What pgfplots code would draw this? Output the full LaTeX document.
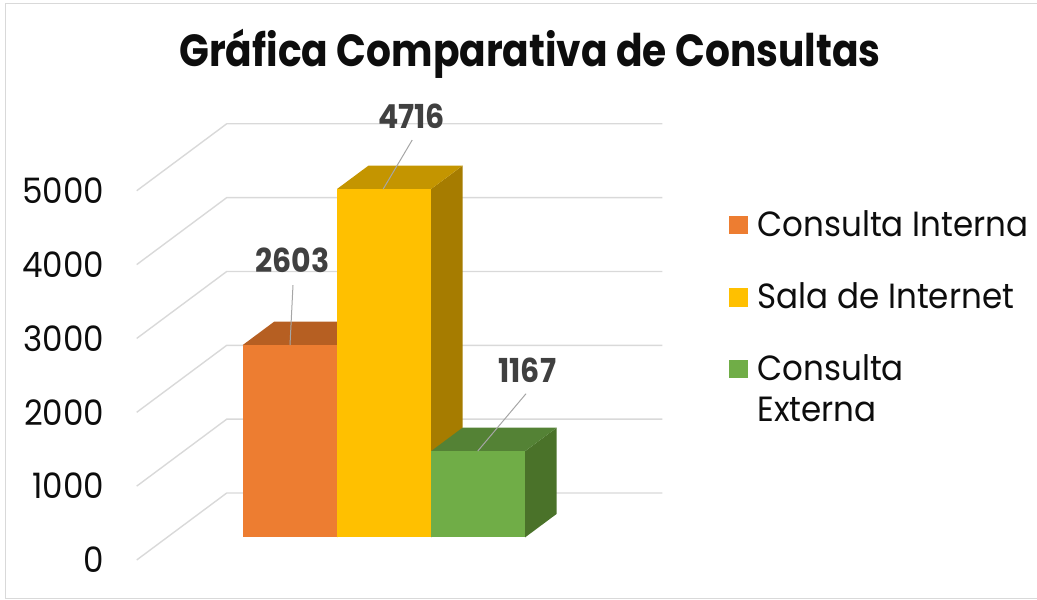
\documentclass[border=0pt]{standalone}
\usepackage{fontspec}
\setmainfont{Poppins}
\newfontfamily\titlefont{Poppins}[FakeStretch=0.87]
\newfontfamily\lblfont{Poppins}[FakeStretch=0.91]
\newfontfamily\legfont{Poppins}[FakeStretch=0.93]
\usepackage{pgfplots}
\pgfplotsset{compat=1.18}
\definecolor{cOrange}{HTML}{ED7D31}
\definecolor{cOrangeTop}{HTML}{B65F22}
\definecolor{cOrangeSide}{HTML}{A04F1A}
\definecolor{cYellow}{HTML}{FFC000}
\definecolor{cYellowTop}{HTML}{C49500}
\definecolor{cYellowSide}{HTML}{A67C00}
\definecolor{cGreen}{HTML}{70AD47}
\definecolor{cGreenTop}{HTML}{548235}
\definecolor{cGreenSide}{HTML}{4A7229}
\definecolor{gridc}{HTML}{D9D9D9}
\definecolor{lblc}{HTML}{404040}
\definecolor{leader}{HTML}{A6A6A6}
\definecolor{txt}{HTML}{0D0D0D}
\begin{document}
\begin{tikzpicture}
\path[use as bounding box] (0,0) rectangle (1037pt,600pt);
\draw[gridc, line width=1pt] (5pt,1.5pt) rectangle (1045pt,596pt);
\node[anchor=base, inner sep=0pt, text=txt, font=\titlefont\fontsize{45}{54}\selectfont\bfseries] at (530pt,533.3pt) {Gráfica Comparativa de Consultas};
\begin{axis}[
  at={(136.7pt,40pt)}, anchor=origin,
  x={(1pt,0pt)}, y={(1pt,0.744pt)}, z={(0pt,0.07386pt)},
  xmin=0, xmax=435.6, ymin=0, ymax=90, zmin=0, zmax=5000,
  hide axis, clip=false,
]
\pgfplotsinvokeforeach{0,1000,2000,3000,4000,5000}{
  \addplot3[gridc, line width=1.4pt] coordinates {(0,0,#1) (0,90,#1) (435.6,90,#1)};
  \node[anchor=east, inner sep=0pt, xshift=-32.2pt, text=txt, font=\legfont\fontsize{35}{42}\selectfont] at (axis cs:0,0,#1) {#1};
}
% Consulta Interna
\addplot3[fill=cOrangeSide, draw=none] coordinates {(169.8,30.5,0) (169.8,62,0) (169.8,62,2603) (169.8,30.5,2603)};
\addplot3[fill=cOrangeTop, draw=none] coordinates {(75.5,30.5,2603) (169.8,30.5,2603) (169.8,62,2603) (75.5,62,2603)};
\addplot3[fill=cOrange, draw=none] coordinates {(75.5,30.5,0) (169.8,30.5,0) (169.8,30.5,2603) (75.5,30.5,2603)};
% Sala de Internet
\addplot3[fill=cYellowSide, draw=none] coordinates {(263.9,30.5,0) (263.9,62,0) (263.9,62,4716) (263.9,30.5,4716)};
\addplot3[fill=cYellowTop, draw=none] coordinates {(169.8,30.5,4716) (263.9,30.5,4716) (263.9,62,4716) (169.8,62,4716)};
\addplot3[fill=cYellow, draw=none] coordinates {(169.8,30.5,0) (263.9,30.5,0) (263.9,30.5,4716) (169.8,30.5,4716)};
% Consulta Externa
\addplot3[fill=cGreenSide, draw=none] coordinates {(358,30.5,0) (358,62,0) (358,62,1167) (358,30.5,1167)};
\addplot3[fill=cGreenTop, draw=none] coordinates {(263.9,30.5,1167) (358,30.5,1167) (358,62,1167) (263.9,62,1167)};
\addplot3[fill=cGreen, draw=none] coordinates {(263.9,30.5,0) (358,30.5,0) (358,30.5,1167) (263.9,30.5,1167)};
% data labels
\draw[leader, line width=1pt] (axis cs:122.8,30.5,2603) -- ++(3pt,60pt);
\path (axis cs:122.8,30.5,2603) ++(2.3pt,84.3pt) node[text=lblc, inner sep=0pt, font=\lblfont\fontsize{33}{40}\selectfont\bfseries] {2603};
\draw[leader, line width=1pt] (axis cs:216,30.5,4716) -- ++(29pt,49pt);
\path (axis cs:216,30.5,4716) ++(28.4pt,72.7pt) node[text=lblc, inner sep=0pt, font=\lblfont\fontsize{33}{40}\selectfont\bfseries] {4716};
\draw[leader, line width=1pt] (axis cs:310.5,30.5,1167) -- ++(48.3pt,57.4pt);
\path (axis cs:310.5,30.5,1167) ++(49.6pt,81pt) node[text=lblc, inner sep=0pt, font=\lblfont\fontsize{33}{40}\selectfont\bfseries] {1167};
\end{axis}
% legend
\fill[cOrange] (729.3pt,365.7pt) rectangle (747.7pt,384pt);
\fill[cYellow] (729.3pt,293.3pt) rectangle (747.7pt,311.7pt);
\fill[cGreen] (729.3pt,221.7pt) rectangle (747.7pt,240pt);
\begin{scope}[every node/.style={anchor=base west, inner sep=0pt, text=txt, font=\legfont\fontsize{35}{42}\selectfont}]
\node at (757.3pt,363.5pt) {Consulta Interna};
\node at (757.3pt,291.5pt) {Sala de Internet};
\node at (757.3pt,219.2pt) {Consulta};
\node at (757.3pt,178.3pt) {Externa};
\end{scope}
\end{tikzpicture}
\end{document}
